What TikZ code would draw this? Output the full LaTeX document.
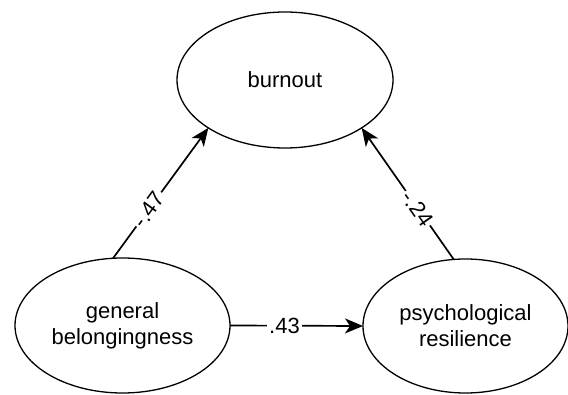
\documentclass[tikz,border=0pt]{standalone}
\usepackage{fontspec}
\setmainfont{Liberation Sans}
\usetikzlibrary{shapes.geometric,arrows.meta}
\begin{document}
\begin{tikzpicture}[x=1pt,y=1pt,
  latent/.style={ellipse,draw=black,line width=1.3pt,inner sep=0pt,outer sep=0pt,
    align=center,font=\fontsize{22}{26}\selectfont},
  effect/.style={draw=black,line width=1.7pt,arrows={-Stealth[length=18pt,width=15pt,inset=5pt]}},
  coef/.style={fill=white,inner sep=2pt,font=\fontsize{22}{26}\selectfont}]
\useasboundingbox (0,0) rectangle (568,394);
\node[latent,minimum width=216pt,minimum height=136pt] (burn) at (285,314) {burnout};
\node[latent,minimum width=215pt,minimum height=135pt] (gen) at (122.5,68.5) {general\\belongingness};
\node[latent,minimum width=205pt,minimum height=134pt] (psy) at (465.5,68) {psychological\\resilience};
\draw[effect] (gen.98.8) -- node[coef,sloped,pos=0.375] (l1) {-.47} (burn.212);
\draw[effect] (psy.100.7) -- node[coef,sloped,pos=0.39] (l2) {-.24} (burn.328);
\draw[effect] (gen.east) -- node[coef,pos=0.41] (l3) {.43} (psy.west);
\end{tikzpicture}
\end{document}
